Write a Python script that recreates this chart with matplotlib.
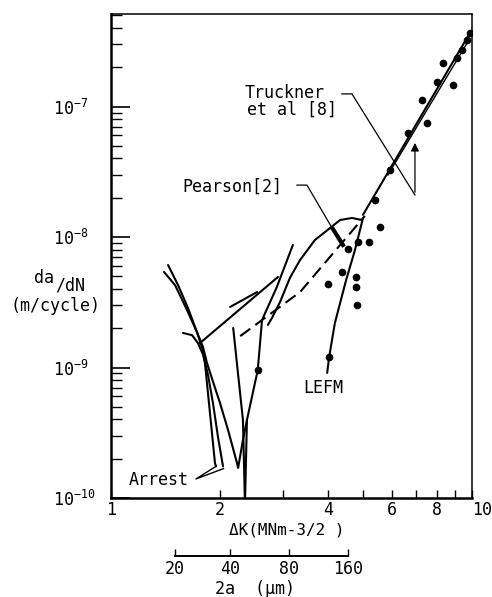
import numpy as np
import matplotlib
matplotlib.use("Agg")
import matplotlib.pyplot as plt
from matplotlib import rc
from matplotlib.ticker import LogLocator, NullFormatter, NullLocator

rc("font", family="DejaVu Sans Mono", size=12)
rc("mathtext", fontset="custom", rm="DejaVu Sans Mono", it="DejaVu Sans Mono", bf="DejaVu Sans Mono")

# --- curves (dK in MNm^-3/2, da/dN in m/cycle) ---
main_dk = [4.99, 9.94]
main_rate = [1.48e-8, 3.79e-7]
truck_dk = [5.85, 9.81]
truck_rate = [2.99e-8, 3.24e-7]
lefm_dk = [3.97, 4.02, 4.17, 4.48, 4.74, 4.99]
lefm_rate = [9.1e-10, 1.20e-9, 2.19e-9, 4.68e-9, 7.94e-9, 1.40e-8]
pearson_dk = [2.72, 2.79, 2.94, 3.13, 3.34, 3.67, 4.04, 4.31, 4.65, 4.96]
pearson_rate = [2.12e-9, 2.39e-9, 3.18e-9, 4.86e-9, 6.67e-9, 9.48e-9, 1.17e-8, 1.35e-8, 1.40e-8, 1.35e-8]
dash_dk = [2.28, 3.34, 5.05]
dash_rate = [1.74e-9, 3.79e-9, 1.45e-8]

# short-crack curves on the left
va_dk = [1.439, 1.533, 1.634, 1.730, 1.798, 1.845, 1.93, 2.004, 2.110, 2.234, 2.25, 2.32, 2.38]
va_rate = [6.10e-9, 4.29e-9, 2.86e-9, 1.87e-9, 1.44e-9, 1.08e-9, 7.35e-10, 5.35e-10, 3.32e-10, 1.85e-10, 1.70e-10, 2.78e-10, 3.96e-10]
arr1_dk = [1.402, 1.504, 1.614, 1.730, 1.79, 1.821, 1.880, 1.941, 1.954]
arr1_rate = [5.40e-9, 4.29e-9, 2.86e-9, 1.87e-9, 1.40e-9, 1.08e-9, 4.48e-10, 1.85e-10, 1.75e-10]
arr2_dk = [1.583, 1.677, 1.741, 1.80, 1.857, 1.916, 1.98, 2.043]
arr2_rate = [1.84e-9, 1.77e-9, 1.54e-9, 1.25e-9, 8.76e-10, 5.35e-10, 2.9e-10, 1.75e-10]
long_dk = [1.764, 2.90]
long_rate = [1.54e-9, 4.94e-9]
short_dk = [2.137, 2.54]
short_rate = [2.91e-9, 3.79e-9]
l1_dk = [2.18, 2.32, 2.35]
l1_rate = [2.01e-9, 3.96e-10, 9.0e-11]
r_dk = [3.19, 2.88, 2.62, 2.55, 2.38, 2.35]
r_rate = [8.69e-9, 4.14e-9, 2.31e-9, 9.57e-10, 3.96e-10, 9.0e-11]

# data points
dot_dk = [3.99, 4.36, 4.53, 4.77, 4.77, 4.80, 4.83, 5.18, 5.56, 5.39, 5.93, 6.65,
          7.27, 7.50, 8.00, 8.31, 8.86, 9.09, 9.38, 9.69, 9.87, 4.02, 2.55]
dot_rate = [4.37e-9, 5.40e-9, 8.09e-9, 4.94e-9, 4.14e-9, 3.01e-9, 9.16e-9, 9.16e-9,
            1.19e-8, 1.92e-8, 3.26e-8, 6.27e-8, 1.12e-7, 7.48e-8, 1.54e-7, 2.15e-7,
            1.46e-7, 2.35e-7, 2.71e-7, 3.24e-7, 3.66e-7, 1.20e-9, 9.57e-10]

# secondary crack-length scale
sec_labels = ["20", "40", "80", "160"]
sec_dk = [1.50, 2.14, 3.11, 4.53]

xtick_vals = [1, 2, 4, 6, 8, 10]
ytick_vals = [1e-10, 1e-9, 1e-8, 1e-7]
ytick_labels = [r"$10^{-10}$", r"$10^{-9}$", r"$10^{-8}$", r"$10^{-7}$"]

W, H = 492, 597
fig = plt.figure(figsize=(W / 100, H / 100), dpi=100)
ax = fig.add_axes([111 / W, 1 - 498 / H, 361 / W, 484 / H])
ax.set_xscale("log")
ax.set_yscale("log")
ax.set_xlim(1, 10)
ax.set_ylim(1e-10, 5.12e-7)

lw = 1.5
for xs, ys in [(main_dk, main_rate), (lefm_dk, lefm_rate), (pearson_dk, pearson_rate),
               (va_dk, va_rate), (arr1_dk, arr1_rate), (arr2_dk, arr2_rate),
               (long_dk, long_rate), (short_dk, short_rate), (l1_dk, l1_rate), (r_dk, r_rate)]:
    ax.plot(xs, ys, color="black", lw=lw, solid_capstyle="round")
ax.plot(truck_dk, truck_rate, color="black", lw=1.0)
ax.plot(dash_dk, dash_rate, color="black", lw=lw, linestyle=(0, (6, 3)))
ax.plot(dot_dk, dot_rate, "o", color="black", ms=4.5)

# labels and leaders
ax.text(1.358, 1.37e-10, "Arrest", ha="center", va="center")
ax.plot([1.954, 1.72, 2.05], [1.75e-10, 1.40e-10, 1.68e-10], color="black", lw=1.0)
ax.text(3.87, 6.97e-10, "LEFM", ha="center", va="center")
ax.text(1.573, 2.42e-8, "Pearson[2]", ha="left", va="center")
ax.plot([3.275, 3.49, 4.07], [2.50e-8, 2.50e-8, 1.21e-8], color="black", lw=0.9)
ax.plot([4.12, 4.39], [1.15e-8, 8.69e-9], color="black", lw=3)
ax.text(2.35, 1.27e-7, "Truckner", ha="left", va="center")
ax.text(2.38, 9.4e-8, "et al [8]", ha="left", va="center")
ax.plot([4.36, 4.65, 6.95], [1.25e-7, 1.25e-7, 2.10e-8], color="black", lw=0.9)
ax.annotate("", xy=(6.95, 5.53e-8), xytext=(6.95, 2.10e-8),
            arrowprops=dict(arrowstyle="-|>", lw=0.9, color="black", mutation_scale=12))

# ticks
ax.set_xticks(xtick_vals, [str(v) for v in xtick_vals])
ax.set_xticks([3, 5, 7, 9], minor=True)
ax.xaxis.set_minor_formatter(NullFormatter())
ax.tick_params(axis="x", which="both", direction="in", length=5.5, width=1.0, pad=2, top=False)
ax.get_xticklabels()[-1].set_ha("left")

ax.set_yticks(ytick_vals, ytick_labels)
ax.yaxis.set_minor_locator(LogLocator(base=10, subs=np.arange(2, 10), numticks=20))
ax.yaxis.set_minor_formatter(NullFormatter())
ax.tick_params(axis="y", which="major", direction="in", length=14, width=1.2, pad=42, right=False)
ax.tick_params(axis="y", which="minor", direction="in", length=8, width=1.0, right=False)
for lab in ax.get_yticklabels():
    lab.set_ha("left")

ax.spines["left"].set_linewidth(1.8)
ax.spines["bottom"].set_linewidth(1.8)
ax.spines["top"].set_linewidth(1.1)
ax.spines["right"].set_linewidth(1.1)

fig.text(44 / W, 1 - 278 / H, "da", ha="center", va="center")
fig.text(70 / W, 1 - 286 / H, "/dN", ha="center", va="center")
fig.text(56 / W, 1 - 306 / H, "(m/cycle)", ha="center", va="center")
fig.text(287 / W, 1 - 530 / H, "\u0394K(MNm-3/2 )", ha="center", va="center", fontsize=11.5)

# secondary scale of crack length
ax2 = fig.add_axes([111 / W, 1 - 556 / H, 361 / W, 0.001])
ax2.set_xscale("log")
ax2.set_xlim(1, 10)
ax2.set_ylim(0, 1)
for s in ax2.spines.values():
    s.set_visible(False)
ax2.set_yticks([])
ax2.plot([sec_dk[0], sec_dk[-1]], [0, 0], color="black", lw=1.4, clip_on=False)
ax2.set_xticks(sec_dk, sec_labels)
ax2.xaxis.set_minor_locator(NullLocator())
ax2.tick_params(axis="x", direction="in", length=5, width=1.0, pad=3)
ax2.patch.set_visible(False)
fig.text(255 / W, 1 - 589 / H, "2a  (\u03bcm)", ha="center", va="center")

fig.savefig("out.png", dpi=100, facecolor="white")
